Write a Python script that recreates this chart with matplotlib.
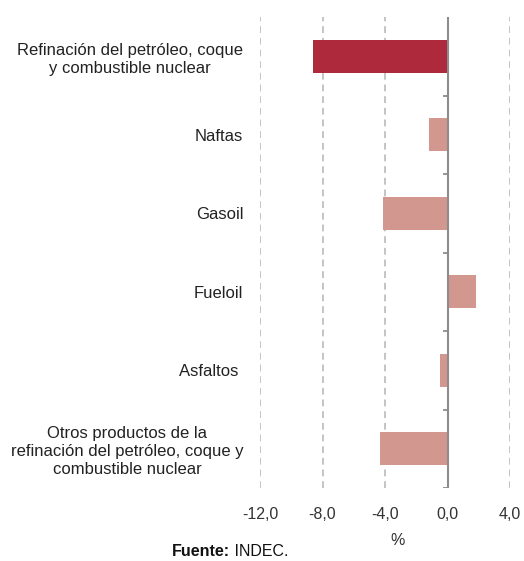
import numpy as np
import matplotlib
matplotlib.use('Agg')
import matplotlib.pyplot as plt

# data (variation in %)
categories = [
    'Refinación del petróleo, coque\ny combustible nuclear',
    'Naftas',
    'Gasoil',
    'Fueloil',
    'Asfaltos ',
    'Otros productos de la\nrefinación del petróleo, coque y\ncombustible nuclear',
]
values = [-8.6, -1.2, -4.1, 1.8, -0.5, -4.3]
bar_colors = ['#AD293B', '#D2978E', '#D2978E', '#D2978E', '#D2978E', '#D2978E']
xticks = [-12, -8, -4, 0, 4]
xtick_labels = ['-12,0', '-8,0', '-4,0', '0,0', '4,0']

plt.rcParams['font.family'] = ['Liberation Sans', 'DejaVu Sans']

fig = plt.figure(figsize=(5.24, 5.61), dpi=100)
ax = fig.add_axes([260 / 524, 1 - 488 / 561, 250 / 524, 471 / 561])

y = np.arange(len(categories))
ax.barh(y, values, height=0.42, color=bar_colors, zorder=3)

ax.set_xlim(-12, 4)
ax.set_ylim(len(categories) - 0.5, -0.5)

# dashed grid at each x tick
for t in xticks:
    if t != 0:
        ax.axvline(t, color='#C4C4C4', linestyle=(0, (3.5, 2.5)), linewidth=1.4, zorder=1)

# zero line with small ticks at category boundaries
ax.axvline(0, color='#8C8C8C', linewidth=1.5, zorder=4)
bounds = np.arange(len(categories) + 1) - 0.5
ax.hlines(bounds[1:], -0.3, 0, color='#8C8C8C', linewidth=1.3, zorder=4)

ax.set_xticks(xticks)
ax.set_xticklabels(xtick_labels, fontsize=11.5, color='#333333')
ax.tick_params(axis='x', length=0, pad=14)
ax.set_yticks(y)
ax.set_yticklabels(categories, fontsize=12, color='#222222', multialignment='center',
                   linespacing=1.25)
ax.tick_params(axis='y', length=0, pad=12)

for s in ax.spines.values():
    s.set_visible(False)

ax.set_xlabel('%', fontsize=11.5, color='#333333')
ax.xaxis.set_label_coords((398 - 260) / 250, -0.095)

src = fig.text(172 / 524, 1 - 551 / 561, 'Fuente:', fontsize=11.5, fontweight='bold',
               color='#111111', va='center')
ax.annotate(' INDEC.', xy=(1, 0.5), xycoords=src, va='center', fontsize=11.5, color='#111111')

fig.savefig('out.png', dpi=100)
